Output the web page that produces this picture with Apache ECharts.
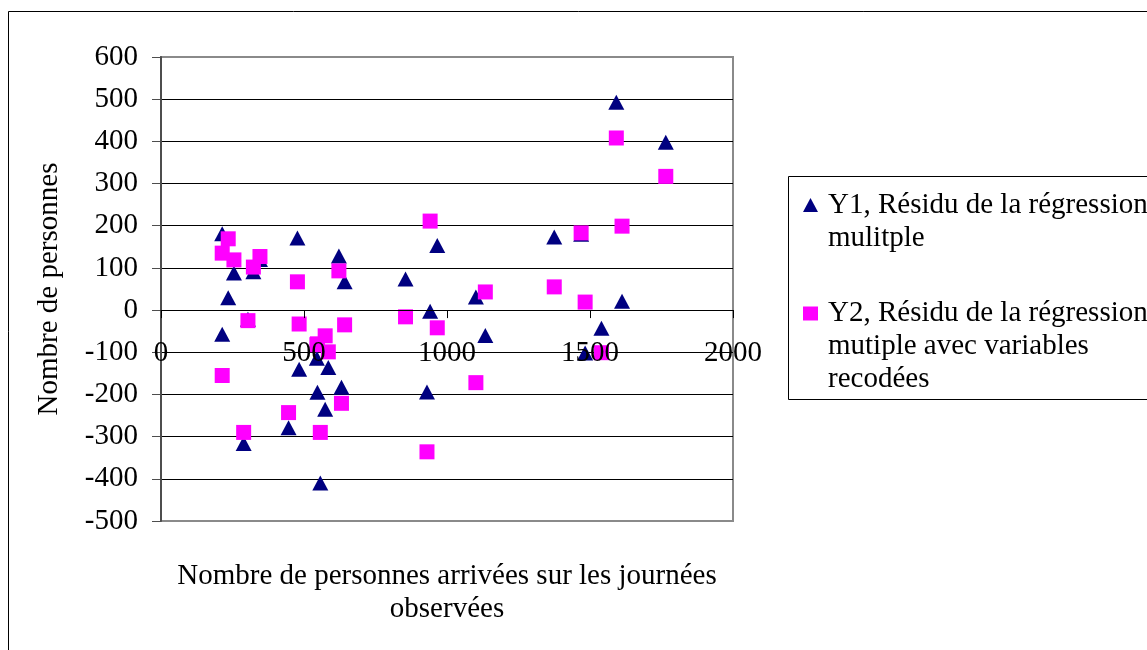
<!DOCTYPE html>
<html>
<head>
<meta charset="utf-8">
<script src="https://cdn.jsdelivr.net/npm/echarts@6/dist/echarts.min.js"></script>
<style>
  html, body { margin: 0; padding: 0; background: #ffffff; }
  #chart { width: 1147px; height: 650px; }
</style>
</head>
<body>
<div id="chart"></div>
<script>
// Observed days: number of arrivals (x) and the residuals of two regression models
const arrivals = [214, 214, 235, 255, 289, 304, 323, 346, 446, 477, 483, 545, 547, 557, 574, 585, 622, 631, 642,
                  855, 930, 941, 966, 1101, 1134, 1375, 1469, 1483, 1540, 1592, 1612, 1765];
const residY1 = [181, -57, 29, 88, -316, -22, 91, 120, -279, 171, -140, -114, -195, -410, -235, -136, 128, -183, 67,
                 74, -194, -3, 153, 31, -60, 173, 180, -102, -43, 493, 21, 398];
const residY2 = [135, -155, 169, 119, -290, -25, 102, 127, -243, 67, -33, -82, -80, -290, -61, -99, 93, -221, -35,
                 -16, -336, 211, -42, -172, 43, 55, 183, 19, -101, 408, 199, 317];

const seriesNames = [
  'Y1, Résidu de la régression mulitple',
  'Y2, Résidu de la régression mutiple avec variables recodées'
];
// wrapped legend labels; the leading blank lines keep the marker level with the first line
const legendLines = [
  '\nY1, Résidu de la régression\nmulitple',
  '\n\nY2, Résidu de la régression\nmutiple avec variables\nrecodées'
];
const xTitle = 'Nombre de personnes arrivées sur les journées\nobservées';
const yTitle = 'Nombre de personnes';

const Y_MIN = -500, Y_MAX = 600;
const GRID = { left: 161, top: 57, width: 572, height: 464 };

const FONT = "'Liberation Serif', 'Times New Roman', serif";
const FS = 29;

// the x axis crosses the value axis at 0: shift it up from the bottom edge
const xAxisOffset = -GRID.height * (0 - Y_MIN) / (Y_MAX - Y_MIN);

// plot frame: grey at the top (600) and bottom (-500), black in between
const splitColors = ['#8a8a8a'];
for (let i = 0; i < 10; i++) splitColors.push('#000000');
splitColors.push('#8a8a8a');

const chart = echarts.init(document.getElementById('chart'), null, { renderer: 'canvas' });

chart.setOption({
  animation: false,
  backgroundColor: '#ffffff',
  textStyle: { fontFamily: FONT },
  graphic: [
    { // outer chart frame
      type: 'rect', silent: true, z: -10,
      shape: { x: 8.5, y: 11.5, width: 1200, height: 700 },
      style: { fill: 'none', stroke: '#000000', lineWidth: 1 }
    },
    { // legend frame
      type: 'rect', silent: true, z: -5,
      shape: { x: 788.5, y: 176.5, width: 400, height: 223 },
      style: { fill: '#ffffff', stroke: '#000000', lineWidth: 1 }
    }
  ],
  grid: Object.assign({
    outerBoundsMode: 'none', containLabel: false,
    show: true, borderColor: '#8a8a8a', borderWidth: 2, backgroundColor: 'transparent'
  }, GRID),
  legend: {
    orient: 'vertical',
    left: 798, top: 150.5,
    itemWidth: 15, itemHeight: 14, itemGap: -23.5,
    selectedMode: false,
    textStyle: { fontFamily: FONT, fontSize: FS, lineHeight: 33, color: '#000000', padding: [0, 0, 0, 5] },
    formatter: name => legendLines[seriesNames.indexOf(name)],
    data: [
      { name: seriesNames[0], icon: 'triangle' },
      { name: seriesNames[1], icon: 'rect' }
    ]
  },
  xAxis: {
    type: 'value', min: 0, max: 2000, interval: 500,
    position: 'bottom', offset: xAxisOffset, z: 5,
    name: xTitle, nameLocation: 'middle', nameGap: 250,
    nameTextStyle: { fontFamily: FONT, fontSize: FS, lineHeight: 33, color: '#000000' },
    axisLine: { show: true, onZero: false, lineStyle: { color: '#000000', width: 1 } },
    axisTick: { show: true, inside: false, length: 8, lineStyle: { color: '#000000', width: 1 } },
    axisLabel: { margin: 29, fontFamily: FONT, fontSize: FS, color: '#000000', formatter: v => String(v) },
    splitLine: { show: false }
  },
  yAxis: {
    type: 'value', min: Y_MIN, max: Y_MAX, interval: 100,
    name: yTitle, nameLocation: 'middle', nameGap: 97, nameRotate: 90,
    nameTextStyle: { fontFamily: FONT, fontSize: FS, color: '#000000' },
    axisLine: { show: true, onZero: false, lineStyle: { color: '#4d4d4d', width: 2 } },
    axisTick: { show: true, inside: false, length: 9, lineStyle: { color: '#4d4d4d', width: 1 } },
    axisLabel: { margin: 23, fontFamily: FONT, fontSize: FS, color: '#000000', formatter: v => String(v) },
    splitLine: { show: true, lineStyle: { color: splitColors, width: 1 } }
  },
  series: [
    {
      name: seriesNames[0], type: 'scatter',
      symbol: 'triangle', symbolSize: [16, 15],
      itemStyle: { color: '#000080', opacity: 1 },
      emphasis: { disabled: true },
      data: arrivals.map((x, i) => [x, residY1[i]])
    },
    {
      name: seriesNames[1], type: 'scatter',
      symbol: 'rect', symbolSize: [15, 15],
      itemStyle: { color: '#ff00ff', opacity: 1 },
      emphasis: { disabled: true },
      data: arrivals.map((x, i) => [x, residY2[i]])
    }
  ]
});
</script>
</body>
</html>
